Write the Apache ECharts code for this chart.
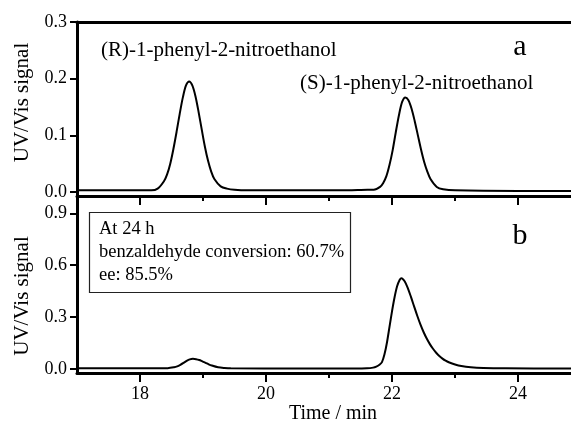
<!DOCTYPE html>
<html><head><meta charset="utf-8">
<script src="https://cdn.jsdelivr.net/npm/echarts@6/dist/echarts.min.js"></script>
<style>html,body{margin:0;padding:0;background:#fff}#c{width:571px;height:427px}</style>
</head><body><div id="c"></div>
<script>
// Panel a: racemic standard
const timeA = [17.0,17.5,18.0,18.18,18.28,18.38,18.43,18.48,18.53,18.58,18.63,18.68,18.73,18.78,18.83,18.88,18.93,18.98,19.03,19.08,19.13,19.18,19.28,19.38,19.5,19.7,20.5,21.3,21.61,21.71,21.81,21.86,21.91,21.96,22.01,22.06,22.11,22.16,22.21,22.26,22.31,22.36,22.41,22.46,22.51,22.56,22.61,22.71,22.81,23.0,24.0,24.84];
const signalA = [0.003,0.003,0.003,0.003,0.006,0.019,0.031,0.050,0.076,0.106,0.138,0.167,0.188,0.195,0.188,0.169,0.141,0.110,0.080,0.055,0.036,0.023,0.010,0.006,0.004,0.003,0.003,0.003,0.004,0.004,0.009,0.016,0.028,0.048,0.074,0.106,0.136,0.159,0.167,0.162,0.147,0.125,0.100,0.075,0.053,0.036,0.023,0.009,0.005,0.003,0.002,0.002];
// Panel b: reaction at 24 h
const timeB = [17.0,17.5,18.0,18.44,18.54,18.59,18.64,18.69,18.74,18.79,18.84,18.89,18.94,18.99,19.04,19.09,19.14,19.24,19.34,19.44,20.5,21.4,21.60,21.70,21.75,21.80,21.84,21.88,21.92,21.96,22.00,22.04,22.08,22.12,22.15,22.20,22.25,22.30,22.35,22.40,22.45,22.50,22.55,22.60,22.65,22.70,22.75,22.80,22.85,22.90,23.00,23.10,23.25,23.45,23.8,24.84];
const signalB = [0.004,0.004,0.004,0.005,0.010,0.015,0.024,0.035,0.047,0.056,0.059,0.057,0.052,0.044,0.036,0.027,0.020,0.010,0.006,0.004,0.003,0.003,0.004,0.008,0.014,0.025,0.040,0.085,0.155,0.245,0.335,0.415,0.478,0.515,0.525,0.507,0.468,0.417,0.362,0.308,0.258,0.214,0.176,0.144,0.117,0.094,0.075,0.060,0.048,0.039,0.026,0.017,0.010,0.006,0.004,0.003];

const xMajorTicks = [18, 20, 22, 24];
const xMinorTicks = [19, 21, 23];
const yTicksA = [0, 0.1, 0.2, 0.3];
const yTicksB = [0, 0.3, 0.6, 0.9];
const labelR = '(R)-1-phenyl-2-nitroethanol';
const labelS = '(S)-1-phenyl-2-nitroethanol';
const panelA = 'a';
const panelB = 'b';
const boxLines = ['At 24 h', 'benzaldehyde conversion: 60.7%', 'ee: 85.5%'];
const xName = 'Time / min';
const yName = 'UV/Vis signal';

const FONT = '"Liberation Serif", "Times New Roman", serif';
const X_MIN = 17, X_MAX = 24.84;
const AXW = 3;

function zip(xs, ys) { return xs.map((x, i) => [x, ys[i]]); }

const chart = echarts.init(document.getElementById('c'), null, {renderer: 'canvas'});

function xAx(grid, opts) {
  return Object.assign({
    type: 'value', gridIndex: grid, min: X_MIN, max: X_MAX, position: 'bottom',
    axisLine: {show: true, onZero: false, lineStyle: {color: '#000', width: AXW}},
    axisTick: {show: false},
    axisLabel: {show: false},
    splitLine: {show: false}
  }, opts);
}

chart.setOption({
  animation: false,
  backgroundColor: '#fff',
  grid: [
    {left: 77, top: 22, width: 494, height: 174},
    {left: 77, top: 196, width: 494, height: 177}
  ],
  xAxis: [
    xAx(0, {axisTick: {show: true, inside: false, length: 9, customValues: xMajorTicks, lineStyle: {color: '#000', width: 2}}}),
    xAx(0, {axisLine: {show: false, onZero: false}, axisTick: {show: true, length: 5, customValues: xMinorTicks, lineStyle: {color: '#000', width: 2}}}),
    xAx(0, {position: 'top'}),
    xAx(1, {
      axisTick: {show: true, length: 9, customValues: xMajorTicks, lineStyle: {color: '#000', width: 2}},
      axisLabel: {show: true, customValues: xMajorTicks, margin: 12, fontFamily: FONT, fontSize: 18, color: '#000'},
      name: xName, nameLocation: 'middle', nameGap: 30,
      nameTextStyle: {fontFamily: FONT, fontSize: 20, color: '#000', padding: [0, 0, 0, 18]}
    }),
    xAx(1, {axisLine: {show: false, onZero: false}, axisTick: {show: true, length: 5, customValues: xMinorTicks, lineStyle: {color: '#000', width: 2}}})
  ],
  yAxis: [
    {
      type: 'value', gridIndex: 0, min: -0.007, max: 0.3,
      axisLine: {show: true, onZero: false, lineStyle: {color: '#000', width: AXW}},
      axisTick: {show: true, length: 7, customValues: yTicksA, lineStyle: {color: '#000', width: 2}},
      axisLabel: {show: true, customValues: yTicksA, margin: 10, fontFamily: FONT, fontSize: 18, color: '#000', formatter: v => v.toFixed(1)},
      splitLine: {show: false},
      name: yName, nameLocation: 'middle', nameRotate: 90, nameGap: 44,
      nameTextStyle: {fontFamily: FONT, fontSize: 21, color: '#000', padding: [0, 0, 0, 13]}
    },
    {
      type: 'value', gridIndex: 1, min: -0.023, max: 1.0,
      axisLine: {show: true, onZero: false, lineStyle: {color: '#000', width: AXW}},
      axisTick: {show: true, length: 7, customValues: yTicksB, lineStyle: {color: '#000', width: 2}},
      axisLabel: {show: true, customValues: yTicksB, margin: 10, fontFamily: FONT, fontSize: 18, color: '#000', formatter: v => v.toFixed(1)},
      splitLine: {show: false},
      name: yName, nameLocation: 'middle', nameRotate: 90, nameGap: 44,
      nameTextStyle: {fontFamily: FONT, fontSize: 21, color: '#000', padding: [0, 23, 0, 0]}
    }
  ],
  series: [
    {type: 'line', xAxisIndex: 0, yAxisIndex: 0, data: zip(timeA, signalA), smooth: 0.3, symbol: 'none', lineStyle: {color: '#000', width: 2}, z: 3},
    {type: 'line', xAxisIndex: 3, yAxisIndex: 1, data: zip(timeB, signalB), smooth: 0.3, symbol: 'none', lineStyle: {color: '#000', width: 2}, z: 3}
  ],
  graphic: [
    {type: 'text', x: 101, y: 50, style: {text: labelR, font: '21px ' + FONT, fill: '#000', align: 'left', verticalAlign: 'middle'}},
    {type: 'text', x: 300, y: 83, style: {text: labelS, font: '21px ' + FONT, fill: '#000', align: 'left', verticalAlign: 'middle'}},
    {type: 'text', x: 520, y: 47, style: {text: panelA, font: '30px ' + FONT, fill: '#000', align: 'center', verticalAlign: 'middle'}},
    {type: 'text', x: 520, y: 236, style: {text: panelB, font: '30px ' + FONT, fill: '#000', align: 'center', verticalAlign: 'middle'}},
    {type: 'rect', shape: {x: 89.5, y: 212.5, width: 261, height: 80}, style: {fill: '#fff', stroke: '#222', lineWidth: 1.2}, z: 10},
    {type: 'text', x: 99, y: 229, z: 11, style: {text: boxLines[0], font: '18.5px ' + FONT, fill: '#000', align: 'left', verticalAlign: 'middle'}},
    {type: 'text', x: 99, y: 252, z: 11, style: {text: boxLines[1], font: '18.5px ' + FONT, fill: '#000', align: 'left', verticalAlign: 'middle'}},
    {type: 'text', x: 99, y: 275, z: 11, style: {text: boxLines[2], font: '18.5px ' + FONT, fill: '#000', align: 'left', verticalAlign: 'middle'}}
  ]
});
</script>
</body></html>
